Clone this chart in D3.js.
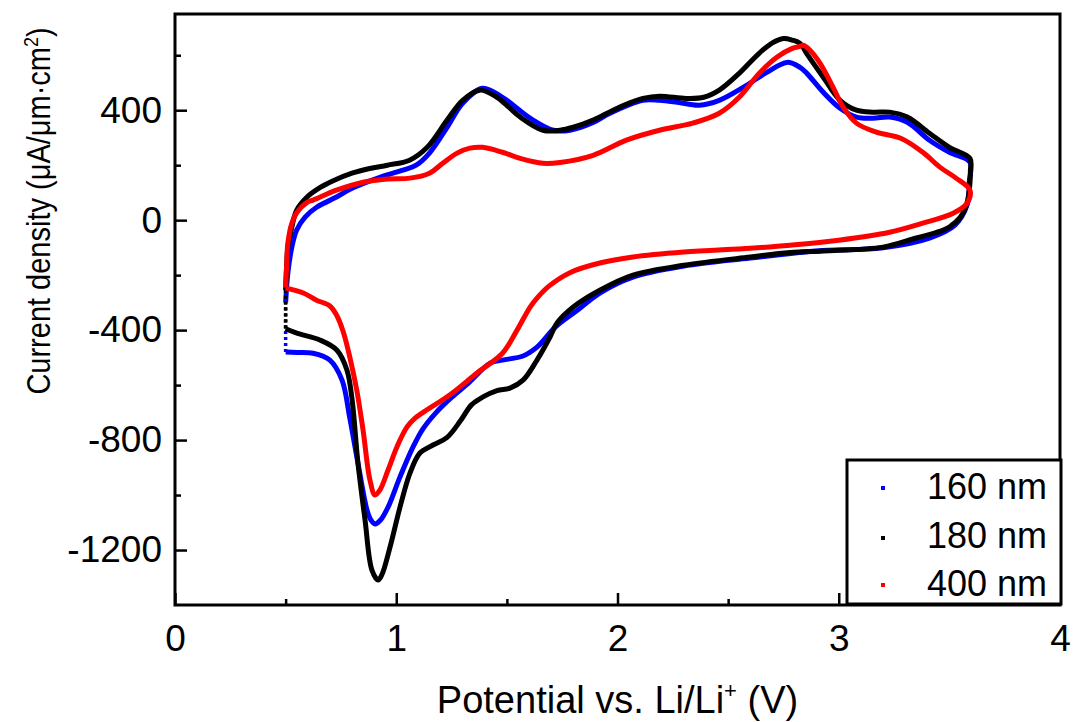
<!DOCTYPE html>
<html>
<head>
<meta charset="utf-8">
<script src="https://cdn.jsdelivr.net/npm/d3@7"></script>
<style>
  html, body { margin: 0; padding: 0; background: #fff; }
  svg { display: block; }
  text { font-family: "Liberation Sans", Arial, sans-serif; fill: #000; }
</style>
</head>
<body>
<svg id="chart" width="1073" height="722"></svg>
<script>
// ---- Data ----
const seriesNames = ["160 nm", "180 nm", "400 nm"];
const seriesColors = ["#0000ff", "#000000", "#ff0000"];

// 160 nm
const v160 = [0.50,0.50,0.51,0.528,0.55,0.588,0.64,0.73,0.80,0.926,1.03,1.09,1.15,1.23,1.30,1.39,1.48,1.605,1.71,1.785,1.89,1.966,2.115,2.19,2.27,2.37,2.46,2.57,2.675,2.766,2.825,2.856,2.93,3.006,3.08,3.155,3.23,3.31,3.41,3.50,3.593,
  3.59,3.58,3.525,3.41,3.20,2.90,2.60,2.30,2.07,1.92,1.82,1.72,1.636,1.573,1.48,1.424,1.33,1.25,1.18,1.12,1.076,1.017,0.963,0.93,0.904,0.885,0.868,0.827,0.79,0.755,0.70,0.624,0.55,0.50];
const i160 = [-480,-300,-193,-98,-36,11,47,84,116,156,182,200,244,338,425,480,447,371,327,327,355,389,436,436,429,418,436,484,538,574,556,534,465,407,375,371,375,356,291,247,211,
  140,55,-18,-65,-100,-112,-138,-167,-207,-265,-327,-388,-462,-494,-509,-520,-590,-645,-700,-760,-825,-934,-1044,-1090,-1105,-1090,-1055,-884,-720,-582,-509,-484,-481,-480];

// 180 nm
const v180 = [0.50,0.50,0.505,0.51,0.528,0.55,0.597,0.655,0.72,0.80,0.88,0.96,1.06,1.14,1.23,1.30,1.378,1.455,1.51,1.56,1.663,1.74,1.80,1.89,1.98,2.05,2.115,2.19,2.31,2.39,2.46,2.55,2.64,2.70,2.75,2.79,2.825,2.856,2.93,3.006,3.08,3.155,3.23,3.31,3.41,3.50,3.593,
  3.595,3.59,3.575,3.55,3.50,3.46,3.35,3.20,2.93,2.78,2.60,2.30,2.07,1.92,1.80,1.726,1.695,1.636,1.573,1.514,1.455,1.39,1.34,1.29,1.23,1.166,1.107,1.062,1.017,0.972,0.935,0.918,0.89,0.859,0.827,0.80,0.777,0.732,0.655,0.551,0.50];
const i180 = [-395,-255,-160,-98,-25,36,84,118,145,171,188,200,218,265,364,436,473,447,410,375,327,327,338,364,400,425,443,451,443,447,473,534,607,645,661,655,643,605,520,436,400,393,393,375,316,265,225,
  180,109,50,11,-25,-40,-65,-98,-112,-118,-134,-164,-200,-255,-316,-375,-425,-509,-582,-611,-620,-644,-672,-730,-790,-818,-847,-920,-1044,-1189,-1290,-1309,-1273,-1091,-884,-650,-545,-473,-436,-411,-395];

// 400 nm
const v400 = [0.50,0.505,0.51,0.528,0.55,0.597,0.624,0.73,0.85,0.96,1.062,1.15,1.21,1.275,1.333,1.39,1.48,1.56,1.663,1.74,1.89,2.04,2.19,2.34,2.46,2.55,2.64,2.72,2.79,2.825,2.84,2.87,2.915,2.974,3.02,3.08,3.17,3.28,3.38,3.457,3.53,3.593,
  3.58,3.517,3.38,3.23,3.00,2.78,2.60,2.30,2.07,1.92,1.785,1.69,1.64,1.605,1.546,1.48,1.365,1.243,1.12,1.085,1.048,1.003,0.963,0.926,0.904,0.881,0.85,0.822,0.79,0.76,0.73,0.70,0.64,0.58,0.50];
const i400 = [-245,-156,-84,-11,27,65,73,109,138,150,153,171,207,244,262,265,247,225,207,210,236,291,327,353,389,447,534,593,625,632,636,618,571,484,411,353,320,298,247,193,153,109,
  62,25,-11,-44,-73,-91,-102,-116,-134,-156,-191,-240,-280,-316,-400,-484,-556,-635,-700,-720,-753,-825,-909,-982,-1000,-945,-764,-620,-498,-405,-345,-312,-291,-265,-247];

// first segment of these series is the sparse (dotted) vertical jump at 0.5 V
const dottedStart = [true, true, false];

const xTicks = [0, 1, 2, 3, 4];
const xMinor = [0.5, 1.5, 2.5, 3.5];
const yTicks = [-1200, -800, -400, 0, 400];
const yMinor = [-1000, -600, -200, 200, 600];

// ---- Layout ----
const svg = d3.select("#chart");
const L = 175, R = 1060, T = 14, B = 605;

const x = d3.scaleLinear().domain([0, 4]).range([L, R]);
const y = d3.scaleLinear().domain([-1400, 750]).range([B, T]);

const series = [
  { name: seriesNames[0], color: seriesColors[0], v: v160, i: i160, dotted: dottedStart[0] },
  { name: seriesNames[1], color: seriesColors[1], v: v180, i: i180, dotted: dottedStart[1] },
  { name: seriesNames[2], color: seriesColors[2], v: v400, i: i400, dotted: dottedStart[2] }
];

const line = d3.line()
  .x(d => x(d[0]))
  .y(d => y(d[1]))
  .curve(d3.curveCatmullRom.alpha(0.5));
const straight = d3.line().x(d => x(d[0])).y(d => y(d[1]));

const plot = svg.append("g");
series.forEach(s => {
  const pts = s.v.map((vv, k) => [vv, s.i[k]]);
  if (s.dotted) {
    plot.append("path")
      .attr("d", straight(pts.slice(0, 2)))
      .attr("fill", "none")
      .attr("stroke", s.color)
      .attr("stroke-width", 3.5)
      .attr("stroke-dasharray", "3,3");
    plot.append("path")
      .attr("d", line(pts.slice(1)))
      .attr("fill", "none")
      .attr("stroke", s.color)
      .attr("stroke-width", 5)
      .attr("stroke-linejoin", "round");
  } else {
    plot.append("path")
      .attr("d", line(pts))
      .attr("fill", "none")
      .attr("stroke", s.color)
      .attr("stroke-width", 5)
      .attr("stroke-linejoin", "round");
  }
});

// ---- Axes ----
const fontTick = 37;
const fmt = d => String(d);
const gx = svg.append("g").attr("transform", `translate(0,${B})`)
  .call(d3.axisBottom(x).tickValues(xTicks).tickFormat(fmt).tickSizeInner(-12).tickSizeOuter(0).tickPadding(20));
const gxm = svg.append("g").attr("transform", `translate(0,${B})`)
  .call(d3.axisBottom(x).tickValues(xMinor).tickFormat("").tickSizeInner(-6).tickSizeOuter(0));
const gy = svg.append("g").attr("transform", `translate(${L},0)`)
  .call(d3.axisLeft(y).tickValues(yTicks).tickFormat(fmt).tickSizeInner(-12).tickSizeOuter(0).tickPadding(13));
const gym = svg.append("g").attr("transform", `translate(${L},0)`)
  .call(d3.axisLeft(y).tickValues(yMinor).tickFormat("").tickSizeInner(-6).tickSizeOuter(0));

[gx, gxm, gy, gym].forEach(g => {
  g.attr("font-size", fontTick).attr("font-family", "Liberation Sans, Arial, sans-serif");
  g.select(".domain").remove();
  g.selectAll(".tick line").attr("stroke", "#000").attr("stroke-width", 2.5);
  g.selectAll(".tick text").style("font-size", fontTick + "px").attr("fill", "#000");
});

// frame
svg.append("rect")
  .attr("x", L).attr("y", T).attr("width", R - L).attr("height", B - T)
  .attr("fill", "none").attr("stroke", "#000").attr("stroke-width", 3);

// axis titles
const xt = svg.append("text")
  .attr("x", (L + R) / 2).attr("y", 713)
  .attr("text-anchor", "middle")
  .style("font-size", "38px");
xt.append("tspan").text("Potential vs. Li/Li");
xt.append("tspan").attr("dy", -15).style("font-size", "22px").text("+");
xt.append("tspan").attr("dy", 15).text(" (V)");

const yt = svg.append("text")
  .attr("transform", "translate(50,211) rotate(-90) scale(1,1.13)")
  .attr("text-anchor", "middle")
  .style("font-size", "29px");
yt.append("tspan").text("Current density (\u03BCA/\u03BCm\u00B7cm");
yt.append("tspan").attr("dy", -11).style("font-size", "18px").text("2");
yt.append("tspan").attr("dy", 11).text(")");

// ---- Legend ----
const lg = svg.append("g");
lg.append("rect")
  .attr("x", 847).attr("y", 460).attr("width", 214).attr("height", 144)
  .attr("fill", "#fff").attr("stroke", "#000").attr("stroke-width", 3);
const legY = [499, 548, 596];
const markY = [488, 538, 585];
series.forEach((s, k) => {
  lg.append("rect")
    .attr("x", 881).attr("y", markY[k] - 2).attr("width", 4).attr("height", 4)
    .attr("fill", s.color);
  lg.append("text")
    .attr("x", 927).attr("y", legY[k])
    .style("font-size", "36px")
    .text(s.name);
});
</script>
</body>
</html>
